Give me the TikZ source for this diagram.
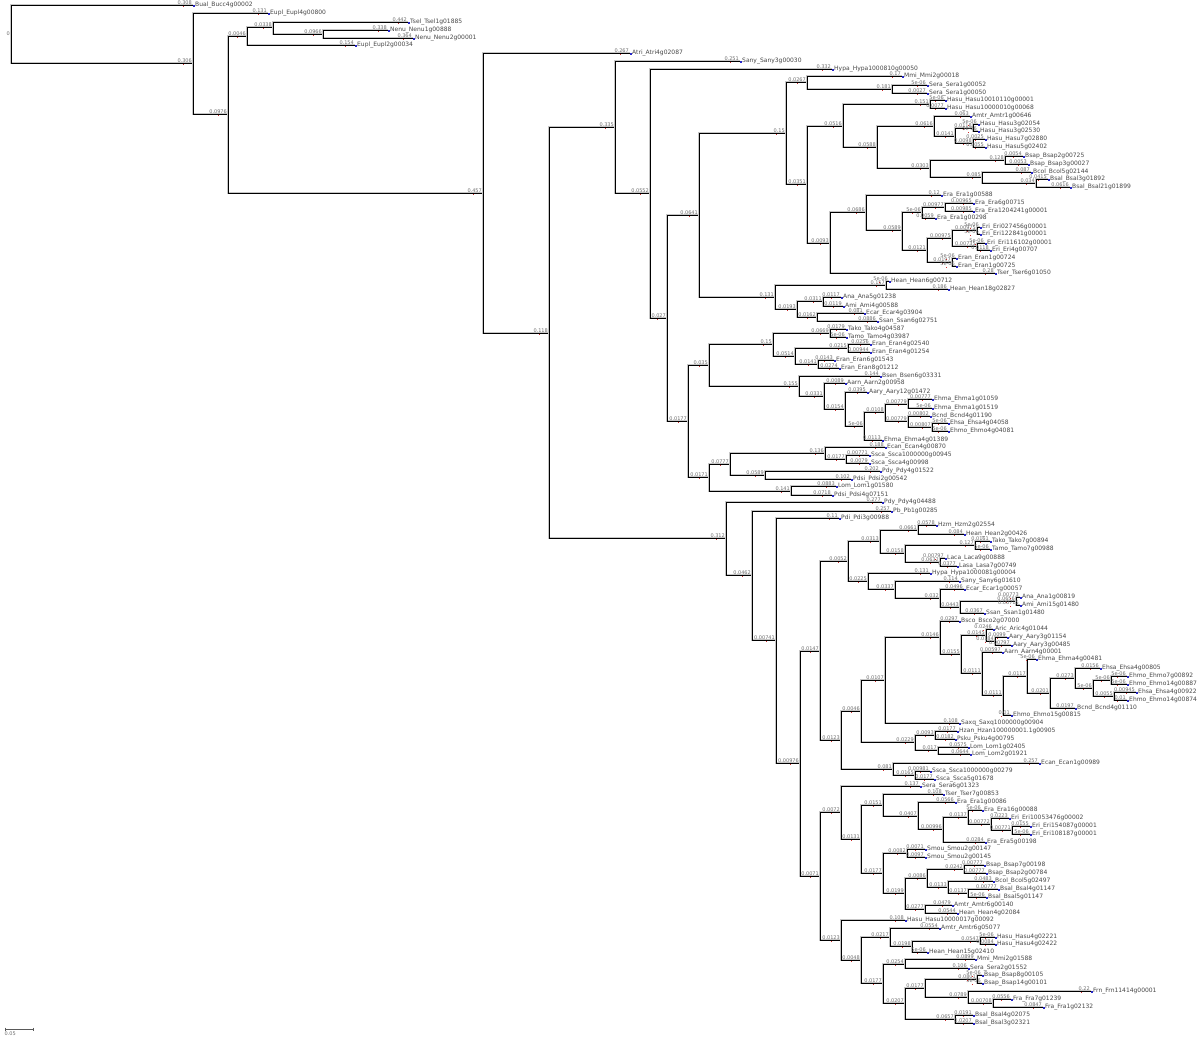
\documentclass[tikz,border=0pt]{standalone}
\usepackage{fontspec}
\newfontfamily\treefont{DejaVu Sans}
\usetikzlibrary{positioning}

\definecolor{leafblue}{RGB}{40,40,200}
\definecolor{tickred}{RGB}{205,45,45}

% --- tree macros ---
\newcommand{\lmark}{\textcolor{leafblue}{\rule{1.4pt}{1.4pt}}\hspace{0.6pt}}
\newcommand{\lf}[4]{\node[leaf] (#1) at (#2,#3) {\lmark #4};}
\newcommand{\brn}[3]{\draw[branch] (#1) |- (#2) node[blen] {#3} node[tick] {};}
\newcommand{\lbrn}[3]{\draw[branch] (#1) |- (#2.west) node[blen] {#3} node[tick] {};}

\begin{document}
\begin{tikzpicture}[x=1pt, y=-1pt,
    branch/.style={draw=black, line width=0.5pt, preaction={draw=gray!45, line width=1.6pt}},
    leaf/.style={anchor=west, inner sep=0pt, font=\treefont\fontsize{6}{6}\selectfont, text=black!72},
    note/.style={inner sep=0.4pt, font=\treefont\fontsize{5}{5}\selectfont, text=gray!85!black},
    blen/.style={note, pos=1, anchor=south east, xshift=-0.5pt},
    tick/.style={pos=1, anchor=north, xshift=-10pt, yshift=-0.4pt, inner sep=0pt, minimum width=0.5pt, minimum height=1.8pt, fill=tickred}]

    \useasboundingbox (0,0) rectangle (1200,1040);

    % --- internal nodes ---
    \coordinate (r) at (11,34);
    \coordinate (n193) at (193,63);
    \coordinate (n228) at (228,114);
    \coordinate (n247) at (247,36);
    \coordinate (n273) at (273,27);
    \coordinate (n323) at (323,34);
    \coordinate (n483) at (483,193);
    \coordinate (n549) at (549,333);
    \coordinate (n615) at (615,127);
    \coordinate (n650) at (650,193);
    \coordinate (n667) at (667,318);
    \coordinate (n699) at (699,215);
    \coordinate (n786) at (786,133);
    \coordinate (n807a) at (807,82);
    \coordinate (n892) at (892,89);
    \coordinate (n807b) at (807,184);
    \coordinate (n843) at (843,126);
    \coordinate (n930) at (930,104);
    \coordinate (n877) at (877,147);
    \coordinate (n934) at (934,126);
    \coordinate (n955) at (955,136);
    \coordinate (n973a) at (973,128);
    \coordinate (n973b) at (973,143);
    \coordinate (n930b) at (930,168);
    \coordinate (n1005) at (1005,160);
    \coordinate (n982) at (982,177);
    \coordinate (n1036) at (1036,183);
    \coordinate (n830) at (830,243);
    \coordinate (n866) at (866,212);
    \coordinate (n902) at (902,230);
    \coordinate (n922) at (922,212);
    \coordinate (n945) at (945,207);
    \coordinate (n927) at (927,250);
    \coordinate (n952) at (952,238);
    \coordinate (n977a) at (977,230);
    \coordinate (n977b) at (977,246);
    \coordinate (n952b) at (952,262);
    \coordinate (n775) at (775,297);
    \coordinate (n886) at (886,285);
    \coordinate (n797) at (797,309);
    \coordinate (n823) at (823,301);
    \coordinate (n817) at (817,317);
    \coordinate (n688) at (688,421);
    \coordinate (n709a) at (709,365);
    \coordinate (n773) at (773,344);
    \coordinate (n830c) at (830,333);
    \coordinate (n795) at (795,356);
    \coordinate (n848) at (848,348);
    \coordinate (n818) at (818,364);
    \coordinate (n799) at (799,386);
    \coordinate (n824) at (824,396);
    \coordinate (n845) at (845,409);
    \coordinate (n864) at (864,426);
    \coordinate (n885) at (885,412);
    \coordinate (n908a) at (908,404);
    \coordinate (n908b) at (908,421);
    \coordinate (n932) at (932,427);
    \coordinate (n709b) at (709,477);
    \coordinate (n730) at (730,464);
    \coordinate (n825) at (825,453);
    \coordinate (n846) at (846,459);
    \coordinate (n765) at (765,475);
    \coordinate (n791) at (791,491);
    \coordinate (n726) at (726,538);
    \coordinate (n752) at (752,575);
    \coordinate (n776) at (776,640);
    \coordinate (n800) at (800,763);
    \coordinate (n820a) at (820,651);
    \coordinate (n848a) at (848,561);
    \coordinate (n880) at (880,541);
    \coordinate (n918) at (918,530);
    \coordinate (n905) at (905,553);
    \coordinate (n975) at (975,545);
    \coordinate (n940) at (940,562);
    \coordinate (n868) at (868,581);
    \coordinate (n895) at (895,589);
    \coordinate (n940b) at (940,598);
    \coordinate (n960) at (960,607);
    \coordinate (n1016) at (1016,601);
    \coordinate (n841) at (841,740);
    \coordinate (n861) at (861,711);
    \coordinate (n885b) at (885,680);
    \coordinate (n940c) at (940,637);
    \coordinate (n961) at (961,654);
    \coordinate (n986) at (986,635);
    \coordinate (n995) at (995,641);
    \coordinate (n982b) at (982,673);
    \coordinate (n1003) at (1003,695);
    \coordinate (n1027) at (1027,676);
    \coordinate (n1050) at (1050,693);
    \coordinate (n1075) at (1075,678);
    \coordinate (n1093) at (1093,688);
    \coordinate (n1111) at (1111,680);
    \coordinate (n1114) at (1114,696);
    \coordinate (nL) at (915,742);
    \coordinate (n935) at (935,735);
    \coordinate (n938) at (938,750);
    \coordinate (n893) at (893,769);
    \coordinate (n915) at (915,775);
    \coordinate (n820b) at (820,876);
    \coordinate (n841b) at (841,812);
    \coordinate (n861b) at (861,839);
    \coordinate (n883a) at (883,805);
    \coordinate (n918b) at (918,816);
    \coordinate (n943) at (943,829);
    \coordinate (n968) at (968,817);
    \coordinate (n991) at (991,824);
    \coordinate (n1012) at (1012,830);
    \coordinate (n883b) at (883,873);
    \coordinate (n907) at (907,853);
    \coordinate (n905b) at (905,893);
    \coordinate (n927b) at (927,878);
    \coordinate (n964) at (964,869);
    \coordinate (n948) at (948,887);
    \coordinate (n968b) at (968,893);
    \coordinate (n925) at (925,909);
    \coordinate (n841c) at (841,940);
    \coordinate (n861c) at (861,960);
    \coordinate (n890) at (890,937);
    \coordinate (n912) at (912,946);
    \coordinate (n980) at (980,941);
    \coordinate (n883c) at (883,983);
    \coordinate (n905c) at (905,964);
    \coordinate (n905d) at (905,1003);
    \coordinate (n925c) at (925,988);
    \coordinate (n977c) at (977,979);
    \coordinate (n968c) at (968,997);
    \coordinate (n993) at (993,1003);
    \coordinate (n955c) at (955,1019);

    % --- leaves ---
    \lf{Bual}{193}{5}{Bual\_Bucc4g00002}
    \lf{EuplA}{268}{13}{Eupl\_Eupl4g00800}
    \lf{Tsel}{408}{22}{Tsel\_Tsel1g01885}
    \lf{NenuA}{388}{30}{Nenu\_Nenu1g00888}
    \lf{NenuB}{413}{38}{Nenu\_Nenu2g00001}
    \lf{EuplB}{355}{45}{Eupl\_Eupl2g00034}
    \lf{Atri}{630}{53}{Atri\_Atri4g02087}
    \lf{SanyA}{740}{61}{Sany\_Sany3g00030}
    \lf{HypaA}{832}{69}{Hypa\_Hypa1000810g00050}
    \lf{MmiA}{902}{76}{Mmi\_Mmi2g00018}
    \lf{SeraA}{927}{85}{Sera\_Sera1g00052}
    \lf{SeraB}{927}{93}{Sera\_Sera1g00050}
    \lf{HasuA}{945}{100}{Hasu\_Hasu10010110g00001}
    \lf{HasuB}{945}{108}{Hasu\_Hasu10000010g00068}
    \lf{AmtrA}{970}{116}{Amtr\_Amtr1g00646}
    \lf{HasuC}{978}{124}{Hasu\_Hasu3g02054}
    \lf{HasuD}{978}{131}{Hasu\_Hasu3g02530}
    \lf{HasuE}{985}{139}{Hasu\_Hasu7g02880}
    \lf{HasuF}{985}{147}{Hasu\_Hasu5g02402}
    \lf{BsapA}{1023}{156}{Bsap\_Bsap2g00725}
    \lf{BsapB}{1028}{164}{Bsap\_Bsap3g00027}
    \lf{BcolA}{1031}{172}{Bcol\_Bcol5g02144}
    \lf{BsalA}{1048}{179}{Bsal\_Bsal3g01892}
    \lf{BsalB}{1070}{187}{Bsal\_Bsal21g01899}
    \lf{EraA}{941}{195}{Era\_Era1g00588}
    \lf{EraB}{973}{203}{Era\_Era6g00715}
    \lf{EraC}{973}{211}{Era\_Era1204241g00001}
    \lf{EraD}{935}{218}{Era\_Era1g00298}
    \lf{EriA}{980}{227}{Eri\_Eri027456g00001}
    \lf{EriB}{980}{234}{Eri\_Eri122841g00001}
    \lf{EriC}{985}{243}{Eri\_Eri116102g00001}
    \lf{EriD}{990}{250}{Eri\_Eri4g00707}
    \lf{EranA}{956}{258}{Eran\_Eran1g00724}
    \lf{EranB}{956}{266}{Eran\_Eran1g00725}
    \lf{TserA}{995}{273}{Tser\_Tser6g01050}
    \lf{HeanA}{889}{281}{Hean\_Hean6g00712}
    \lf{HeanB}{948}{289}{Hean\_Hean18g02827}
    \lf{AnaA}{841}{297}{Ana\_Ana5g01238}
    \lf{AmiA}{843}{306}{Ami\_Ami4g00588}
    \lf{EcarA}{864}{313}{Ecar\_Ecar4g03904}
    \lf{SsanA}{877}{321}{Ssan\_Ssan6g02751}
    \lf{TakoA}{846}{329}{Tako\_Tako4g04587}
    \lf{TamoA}{846}{337}{Tamo\_Tamo4g03987}
    \lf{EranC}{870}{344}{Eran\_Eran4g02540}
    \lf{EranD}{870}{352}{Eran\_Eran4g01254}
    \lf{EranE}{834}{360}{Eran\_Eran6g01543}
    \lf{EranF}{839}{368}{Eran\_Eran8g01212}
    \lf{Bsen}{880}{376}{Bsen\_Bsen6g03331}
    \lf{AarnA}{845}{383}{Aarn\_Aarn2g00958}
    \lf{AaryA}{867}{392}{Aary\_Aary12g01472}
    \lf{EhmaA}{932}{399}{Ehma\_Ehma1g01059}
    \lf{EhmaB}{932}{408}{Ehma\_Ehma1g01519}
    \lf{BcndA}{930}{416}{Bcnd\_Bcnd4g01190}
    \lf{EhsaA}{948}{423}{Ehsa\_Ehsa4g04058}
    \lf{EhmoA}{948}{431}{Ehmo\_Ehmo4g04081}
    \lf{EhmaE}{882}{440}{Ehma\_Ehma4g01389}
    \lf{EcanA}{885}{447}{Ecan\_Ecan4g00870}
    \lf{SscaA}{869}{455}{Ssca\_Ssca1000000g00945}
    \lf{SscaB}{869}{463}{Ssca\_Ssca4g00998}
    \lf{PdyA}{880}{471}{Pdy\_Pdy4g01522}
    \lf{PdsiA}{851}{479}{Pdsi\_Pdsi2g00542}
    \lf{LomA}{836}{486}{Lom\_Lom1g01580}
    \lf{PdsiB}{832}{495}{Pdsi\_Pdsi4g07151}
    \lf{PdyB}{882}{502}{Pdy\_Pdy4g04488}
    \lf{Pb}{891}{511}{Pb\_Pb1g00285}
    \lf{Pdi}{839}{518}{Pdi\_Pdi3g00988}
    \lf{Hzm}{936}{525}{Hzm\_Hzm2g02554}
    \lf{HeanC}{964}{534}{Hean\_Hean2g00426}
    \lf{TakoB}{990}{541}{Tako\_Tako7g00894}
    \lf{TamoB}{990}{549}{Tamo\_Tamo7g00988}
    \lf{Laca}{945}{558}{Laca\_Laca9g00888}
    \lf{Lasa}{957}{566}{Lasa\_Lasa7g00749}
    \lf{HypaB}{930}{573}{Hypa\_Hypa1000081g00004}
    \lf{SanyB}{959}{581}{Sany\_Sany6g01610}
    \lf{EcarB}{964}{589}{Ecar\_Ecar1g00057}
    \lf{AnaB}{1020}{597}{Ana\_Ana1g00819}
    \lf{AmiB}{1020}{605}{Ami\_Ami15g01480}
    \lf{SsanB}{984}{613}{Ssan\_Ssan1g01480}
    \lf{Bsco}{959}{621}{Bsco\_Bsco2g07000}
    \lf{Aric}{993}{629}{Aric\_Aric4g01044}
    \lf{AaryB}{1007}{637}{Aary\_Aary3g01154}
    \lf{AaryC}{1011}{645}{Aary\_Aary3g00485}
    \lf{AarnB}{1002}{652}{Aarn\_Aarn4g00001}
    \lf{EhmaF}{1036}{659}{Ehma\_Ehma4g00481}
    \lf{EhsaB}{1100}{668}{Ehsa\_Ehsa4g00805}
    \lf{EhmoB}{1127}{676}{Ehmo\_Ehmo7g00892}
    \lf{EhmoC}{1127}{684}{Ehmo\_Ehmo14g00887}
    \lf{EhsaC}{1136}{692}{Ehsa\_Ehsa4g00922}
    \lf{EhmoD}{1127}{700}{Ehmo\_Ehmo14g00874}
    \lf{BcndB}{1075}{708}{Bcnd\_Bcnd4g01110}
    \lf{EhmoE}{1011}{715}{Ehmo\_Ehmo15g00815}
    \lf{Saxq}{959}{723}{Saxq\_Saxq1000000g00904}
    \lf{Hzan}{957}{731}{Hzan\_Hzan100000001.1g00905}
    \lf{Psku}{955}{739}{Psku\_Psku4g00795}
    \lf{LomB}{968}{747}{Lom\_Lom1g02405}
    \lf{LomC}{970}{754}{Lom\_Lom2g01921}
    \lf{EcanB}{1039}{763}{Ecan\_Ecan1g00989}
    \lf{SscaC}{930}{771}{Ssca\_Ssca1000000g00279}
    \lf{SscaD}{934}{779}{Ssca\_Ssca5g01678}
    \lf{SeraC}{920}{786}{Sera\_Sera6g01323}
    \lf{TserB}{943}{794}{Tser\_Tser7g00853}
    \lf{EraE}{955}{802}{Era\_Era1g00086}
    \lf{EraG}{982}{810}{Era\_Era16g00088}
    \lf{EriE}{1009}{818}{Eri\_Eri10053476g00002}
    \lf{EriF}{1030}{826}{Eri\_Eri154087g00001}
    \lf{EriG}{1030}{834}{Eri\_Eri108187g00001}
    \lf{EraF}{985}{842}{Era\_Era5g00198}
    \lf{SmouA}{925}{849}{Smou\_Smou2g00147}
    \lf{SmouB}{925}{857}{Smou\_Smou2g00145}
    \lf{BsapC}{984}{865}{Bsap\_Bsap7g00198}
    \lf{BsapD}{986}{873}{Bsap\_Bsap2g00784}
    \lf{BcolB}{993}{881}{Bcol\_Bcol5g02497}
    \lf{BsalC}{998}{889}{Bsal\_Bsal4g01147}
    \lf{BsalD}{986}{897}{Bsal\_Bsal5g01147}
    \lf{AmtrB}{952}{905}{Amtr\_Amtr6g00140}
    \lf{HeanD}{957}{913}{Hean\_Hean4g02084}
    \lf{HasuG}{905}{920}{Hasu\_Hasu10000017g00092}
    \lf{AmtrC}{939}{928}{Amtr\_Amtr6g05077}
    \lf{HasuH}{995}{937}{Hasu\_Hasu4g02221}
    \lf{HasuI}{995}{944}{Hasu\_Hasu4g02422}
    \lf{HeanE}{927}{952}{Hean\_Hean15g02410}
    \lf{MmiB}{975}{959}{Mmi\_Mmi2g01588}
    \lf{SeraD}{968}{968}{Sera\_Sera2g01552}
    \lf{BsapE}{982}{975}{Bsap\_Bsap8g00105}
    \lf{BsapF}{982}{983}{Bsap\_Bsap14g00101}
    \lf{Frn}{1091}{991}{Frn\_Frn11414g00001}
    \lf{FraA}{1011}{999}{Fra\_Fra7g01239}
    \lf{FraB}{1043}{1007}{Fra\_Fra1g02132}
    \lf{BsalE}{973}{1015}{Bsal\_Bsal4g02075}
    \lf{BsalF}{973}{1023}{Bsal\_Bsal3g02321}

    % --- outgroup ---
    \node[note, anchor=east, xshift=-0.5pt] (rlbl) at (r) {0};
    \lbrn{r}{Bual}{0.308}
    \brn{r}{n193}{0.306}
    \lbrn{n193}{EuplA}{0.131}
    \brn{n193}{n228}{0.0976}
    \brn{n228}{n247}{0.0046}
    \brn{n228}{n483}{0.457}
    \brn{n247}{n273}{0.0338}
    \lbrn{n247}{EuplB}{0.154}
    \lbrn{n273}{Tsel}{0.442}
    \brn{n273}{n323}{0.0966}
    \lbrn{n323}{NenuA}{0.338}
    \lbrn{n323}{NenuB}{0.364}

    % --- upper clade ---
    \lbrn{n483}{Atri}{0.267}
    \brn{n483}{n549}{0.118}
    \brn{n549}{n615}{0.335}
    \brn{n549}{n726}{0.312}
    \lbrn{n615}{SanyA}{0.251}
    \brn{n615}{n650}{0.0552}
    \lbrn{n650}{HypaA}{0.332}
    \brn{n650}{n667}{0.027}
    \brn{n667}{n699}{0.0641}
    \brn{n667}{n688}{0.0177}
    \brn{n699}{n786}{0.15}
    \brn{n699}{n775}{0.131}
    \brn{n786}{n807a}{0.0267}
    \brn{n786}{n807b}{0.0351}
    \lbrn{n807a}{MmiA}{0.17}
    \brn{n807a}{n892}{0.181}
    \lbrn{n892}{SeraA}{5e-06}
    \lbrn{n892}{SeraB}{0.0027}
    \brn{n807b}{n843}{0.0516}
    \brn{n807b}{n830}{0.0093}
    \brn{n843}{n930}{0.151}
    \brn{n843}{n877}{0.0588}
    \lbrn{n930}{HasuA}{5e-06}
    \lbrn{n930}{HasuB}{0.0077}
    \brn{n877}{n934}{0.0616}
    \brn{n877}{n930b}{0.0303}
    \lbrn{n934}{AmtrA}{0.063}
    \brn{n934}{n955}{0.0141}
    \brn{n955}{n973a}{0.0118}
    \brn{n955}{n973b}{0.0098}
    \lbrn{n973a}{HasuC}{5e-06}
    \lbrn{n973a}{HasuD}{5e-06}
    \lbrn{n973b}{HasuE}{0.0025}
    \lbrn{n973b}{HasuF}{0.0055}
    \brn{n930b}{n1005}{0.128}
    \brn{n930b}{n982}{0.085}
    \lbrn{n1005}{BsapA}{0.0054}
    \lbrn{n1005}{BsapB}{0.0053}
    \lbrn{n982}{BcolA}{0.087}
    \brn{n982}{n1036}{0.034}
    \lbrn{n1036}{BsalA}{0.0415}
    \lbrn{n1036}{BsalB}{0.0616}
    \brn{n830}{n866}{0.0686}
    \lbrn{n830}{TserA}{0.28}
    \lbrn{n866}{EraA}{0.12}
    \brn{n866}{n902}{0.0589}
    \brn{n902}{n922}{5e-06}
    \brn{n902}{n927}{0.0121}
    \brn{n922}{n945}{0.00977}
    \lbrn{n922}{EraD}{0.0059}
    \lbrn{n945}{EraB}{0.00965}
    \lbrn{n945}{EraC}{0.00985}
    \brn{n927}{n952}{0.00975}
    \brn{n927}{n952b}{0.0197}
    \brn{n952}{n977a}{0.00975}
    \brn{n952}{n977b}{0.00735}
    \lbrn{n977a}{EriA}{5e-06}
    \lbrn{n977a}{EriB}{5e-06}
    \lbrn{n977b}{EriC}{5e-06}
    \lbrn{n977b}{EriD}{0.0118}
    \lbrn{n952b}{EranA}{5e-06}
    \lbrn{n952b}{EranB}{5e-06}
    \brn{n775}{n886}{0.157}
    \brn{n775}{n797}{0.0193}
    \lbrn{n886}{HeanA}{5e-06}
    \lbrn{n886}{HeanB}{0.186}
    \brn{n797}{n823}{0.0311}
    \brn{n797}{n817}{0.0162}
    \lbrn{n823}{AnaA}{0.0117}
    \lbrn{n823}{AmiA}{0.0119}
    \lbrn{n817}{EcarA}{0.081}
    \lbrn{n817}{SsanA}{0.0886}
    \brn{n688}{n709a}{0.035}
    \brn{n688}{n709b}{0.0171}
    \brn{n709a}{n773}{0.15}
    \brn{n709a}{n799}{0.155}
    \brn{n773}{n830c}{0.0669}
    \brn{n773}{n795}{0.0514}
    \lbrn{n830c}{TakoA}{0.0179}
    \lbrn{n830c}{TamoA}{5e-06}
    \brn{n795}{n848}{0.0215}
    \brn{n795}{n818}{0.0141}
    \lbrn{n848}{EranC}{0.0256}
    \lbrn{n848}{EranD}{0.00944}
    \lbrn{n818}{EranE}{0.0143}
    \lbrn{n818}{EranF}{0.0274}
    \lbrn{n799}{Bsen}{0.144}
    \brn{n799}{n824}{0.0331}
    \lbrn{n824}{AarnA}{0.0089}
    \brn{n824}{n845}{0.0154}
    \lbrn{n845}{AaryA}{0.0395}
    \brn{n845}{n864}{5e-06}
    \brn{n864}{n885}{0.0108}
    \lbrn{n864}{EhmaE}{0.0113}
    \brn{n885}{n908a}{0.00779}
    \brn{n885}{n908b}{0.00779}
    \lbrn{n908a}{EhmaA}{0.00777}
    \lbrn{n908a}{EhmaB}{5e-06}
    \lbrn{n908b}{BcndA}{0.00802}
    \brn{n908b}{n932}{0.00807}
    \lbrn{n932}{EhsaA}{5e-06}
    \lbrn{n932}{EhmoA}{5e-06}
    \brn{n709b}{n730}{0.0777}
    \brn{n709b}{n791}{0.141}
    \brn{n730}{n825}{0.136}
    \brn{n730}{n765}{0.0589}
    \lbrn{n825}{EcanA}{0.188}
    \brn{n825}{n846}{0.0177}
    \lbrn{n846}{SscaA}{0.00771}
    \lbrn{n846}{SscaB}{0.0079}
    \lbrn{n765}{PdyA}{0.202}
    \lbrn{n765}{PdsiA}{0.102}
    \lbrn{n791}{LomA}{0.0883}
    \lbrn{n791}{PdsiB}{0.0718}

    % --- lower clade ---
    \lbrn{n726}{PdyB}{0.277}
    \brn{n726}{n752}{0.0462}
    \lbrn{n752}{Pb}{0.257}
    \brn{n752}{n776}{0.00741}
    \lbrn{n776}{Pdi}{0.11}
    \brn{n776}{n800}{0.00976}
    \brn{n800}{n820a}{0.0147}
    \brn{n800}{n820b}{0.0071}
    \brn{n820a}{n848a}{0.0052}
    \brn{n820a}{n841}{0.0123}
    \brn{n848a}{n880}{0.0313}
    \brn{n848a}{n868}{0.0225}
    \brn{n880}{n918}{0.0661}
    \brn{n880}{n905}{0.0158}
    \lbrn{n918}{Hzm}{0.0578}
    \lbrn{n918}{HeanC}{0.084}
    \brn{n905}{n975}{0.127}
    \brn{n905}{n940}{0.0632}
    \lbrn{n975}{TakoB}{0.0161}
    \lbrn{n975}{TamoB}{5e-06}
    \lbrn{n940}{Laca}{0.00797}
    \lbrn{n940}{Lasa}{0.0377}
    \lbrn{n868}{HypaB}{0.131}
    \brn{n868}{n895}{0.0337}
    \lbrn{n895}{SanyB}{0.114}
    \brn{n895}{n940b}{0.032}
    \lbrn{n940b}{EcarB}{0.0496}
    \brn{n940b}{n960}{0.0443}
    \brn{n960}{n1016}{0.0656}
    \lbrn{n960}{SsanB}{0.0367}
    \lbrn{n1016}{AnaB}{0.00773}
    \lbrn{n1016}{AmiB}{0.00715}
    \brn{n841}{n861}{0.0046}
    \brn{n841}{n893}{0.081}
    \brn{n861}{n885b}{0.0107}
    \brn{n861}{nL}{0.0229}
    \brn{n885b}{n940c}{0.0146}
    \lbrn{n885b}{Saxq}{0.108}
    \lbrn{n940c}{Bsco}{0.0297}
    \brn{n940c}{n961}{0.0155}
    \brn{n961}{n986}{0.0145}
    \brn{n961}{n982b}{0.0111}
    \lbrn{n986}{Aric}{0.0246}
    \brn{n986}{n995}{0.0184}
    \lbrn{n995}{AaryB}{0.0099}
    \lbrn{n995}{AaryC}{0.00797}
    \lbrn{n982b}{AarnB}{0.00597}
    \brn{n982b}{n1003}{0.0111}
    \brn{n1003}{n1027}{0.0117}
    \lbrn{n1003}{EhmoE}{0.01}
    \lbrn{n1027}{EhmaF}{5e-06}
    \brn{n1027}{n1050}{0.0201}
    \brn{n1050}{n1075}{0.0273}
    \lbrn{n1050}{BcndB}{0.0197}
    \lbrn{n1075}{EhsaB}{0.0156}
    \brn{n1075}{n1093}{5e-06}
    \brn{n1093}{n1111}{5e-06}
    \brn{n1093}{n1114}{0.0055}
    \lbrn{n1111}{EhmoB}{5e-06}
    \lbrn{n1111}{EhmoC}{5e-06}
    \lbrn{n1114}{EhsaC}{0.00945}
    \lbrn{n1114}{EhmoD}{0.01}
    \brn{nL}{n935}{0.0093}
    \brn{nL}{n938}{0.017}
    \lbrn{n935}{Hzan}{0.0177}
    \lbrn{n935}{Psku}{0.0182}
    \lbrn{n938}{LomB}{0.0575}
    \lbrn{n938}{LomC}{0.0644}
    \lbrn{n893}{EcanB}{0.257}
    \brn{n893}{n915}{0.0165}
    \lbrn{n915}{SscaC}{0.00981}
    \lbrn{n915}{SscaD}{0.0177}
    \brn{n820b}{n841b}{0.0072}
    \brn{n820b}{n841c}{0.0123}
    \lbrn{n841b}{SeraC}{0.137}
    \brn{n841b}{n861b}{0.0131}
    \brn{n861b}{n883a}{0.0151}
    \brn{n861b}{n883b}{0.0177}
    \lbrn{n883a}{TserB}{0.108}
    \brn{n883a}{n918b}{0.0407}
    \lbrn{n918b}{EraE}{0.0566}
    \brn{n918b}{n943}{0.00996}
    \brn{n943}{n968}{0.0137}
    \lbrn{n943}{EraF}{0.0284}
    \lbrn{n968}{EraG}{5e-06}
    \brn{n968}{n991}{0.00772}
    \lbrn{n991}{EriE}{0.0223}
    \brn{n991}{n1012}{0.00771}
    \lbrn{n1012}{EriF}{0.0155}
    \lbrn{n1012}{EriG}{5e-06}
    \brn{n883b}{n907}{0.0082}
    \brn{n883b}{n905b}{0.0199}
    \lbrn{n907}{SmouA}{0.0071}
    \lbrn{n907}{SmouB}{0.0097}
    \brn{n905b}{n927b}{0.0086}
    \brn{n905b}{n925}{0.0277}
    \brn{n927b}{n964}{0.0242}
    \brn{n927b}{n948}{0.0133}
    \lbrn{n964}{BsapC}{0.00777}
    \lbrn{n964}{BsapD}{0.00777}
    \lbrn{n948}{BcolB}{0.0483}
    \brn{n948}{n968b}{0.0137}
    \lbrn{n968b}{BsalC}{0.00777}
    \lbrn{n968b}{BsalD}{5e-06}
    \lbrn{n925}{AmtrB}{0.0479}
    \lbrn{n925}{HeanD}{0.0544}
    \lbrn{n841c}{HasuG}{0.108}
    \brn{n841c}{n861c}{0.0048}
    \brn{n861c}{n890}{0.0217}
    \brn{n861c}{n883c}{0.0177}
    \lbrn{n890}{AmtrC}{0.0554}
    \brn{n890}{n912}{0.0198}
    \brn{n912}{n980}{0.0547}
    \lbrn{n912}{HeanE}{5e-06}
    \lbrn{n980}{HasuH}{5e-06}
    \lbrn{n980}{HasuI}{0.0084}
    \brn{n883c}{n905c}{0.0254}
    \brn{n883c}{n905d}{0.0207}
    \lbrn{n905c}{MmiB}{0.0899}
    \lbrn{n905c}{SeraD}{0.106}
    \brn{n905d}{n925c}{0.0177}
    \brn{n905d}{n955c}{0.0657}
    \brn{n925c}{n977c}{0.0801}
    \brn{n925c}{n968c}{0.0789}
    \lbrn{n977c}{BsapE}{5e-06}
    \lbrn{n977c}{BsapF}{5e-06}
    \lbrn{n968c}{Frn}{0.22}
    \brn{n968c}{n993}{0.00708}
    \lbrn{n993}{FraA}{0.0556}
    \lbrn{n993}{FraB}{0.0847}
    \lbrn{n955c}{BsalE}{0.0191}
    \lbrn{n955c}{BsalF}{0.0207}

    % --- scale bar ---
    \coordinate (sbL) at (5,1029);
    \coordinate (sbR) at (33,1029);
    \draw[gray!70!black, line width=0.5pt] (sbL) -- (sbR);
    \draw[gray!70!black, line width=0.5pt] (sbL) ++(0,-1.5) -- ++(0,3);
    \draw[gray!70!black, line width=0.5pt] (sbR) ++(0,-1.5) -- ++(0,3);
    \node[note, anchor=north west] (sbtext) at (4,1031) {0.05};

\end{tikzpicture}
\end{document}
